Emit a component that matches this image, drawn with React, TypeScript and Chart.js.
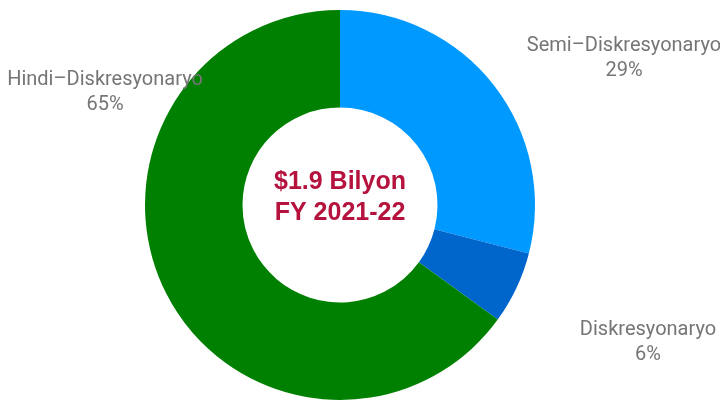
import React, { useEffect, useRef } from "react";
import { Chart, registerables } from "chart.js";

Chart.register(...registerables);

const categories = ["Semi–Diskresyonaryo", "Diskresyonaryo", "Hindi–Diskresyonaryo"];
const values = [29, 6, 65];
const colors = ["#0099FF", "#0066CC", "#008000"];
const centerLines = ["$1.9 Bilyon", "FY 2021-22"];
// label anchor offsets relative to the doughnut centre
const labelOffsets = [
  [284, -147],
  [308, 137],
  [-235, -113],
];

const labelPlugin = {
  id: "labelsAndCenter",
  afterDraw(chart: any) {
    const ctx = chart.ctx;
    const arc = chart.getDatasetMeta(0).data[0];
    if (!arc) return;
    const cx = arc.x;
    const cy = arc.y;
    ctx.save();
    ctx.textAlign = "center";
    ctx.textBaseline = "middle";
    ctx.fillStyle = "#757575";
    ctx.font = "20px Roboto";
    categories.forEach((c, i) => {
      const [dx, dy] = labelOffsets[i];
      ctx.fillText(c, cx + dx, cy + dy - 12.5);
      ctx.fillText(values[i] + "%", cx + dx, cy + dy + 13);
    });
    ctx.fillStyle = "#B5123D";
    ctx.font = "bold 25px 'Liberation Sans', Arial, sans-serif";
    ctx.fillText(centerLines[0], cx, cy - 23);
    ctx.fillText(centerLines[1], cx, cy + 8);
    ctx.restore();
  },
};

export default function App() {
  const ref = useRef<HTMLCanvasElement>(null);
  useEffect(() => {
    if (!ref.current) return;
    const chart = new Chart(ref.current, {
      type: "doughnut",
      data: {
        labels: categories,
        datasets: [
          {
            data: values,
            backgroundColor: colors,
            borderWidth: 0,
            hoverOffset: 0,
          },
        ],
      },
      options: {
        animation: false,
        responsive: false,
        cutout: "50%",
        layout: { padding: { top: 10, bottom: 1, left: 0, right: 40 } },
        plugins: {
          legend: { display: false },
          tooltip: { enabled: false },
        },
      },
      plugins: [labelPlugin],
    });
    return () => chart.destroy();
  }, []);
  return (
    <div style={{ position: "fixed", left: 0, top: 0, width: 720, height: 401, background: "#fff" }}>
      <canvas ref={ref} width={720} height={401} style={{ width: 720, height: 401 }} />
    </div>
  );
}
